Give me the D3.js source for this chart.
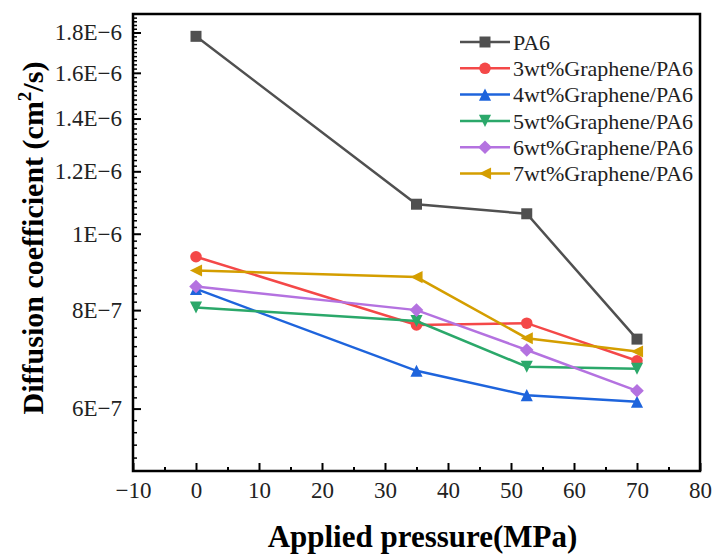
<!DOCTYPE html>
<html>
<head>
<meta charset="utf-8">
<script src="https://cdn.jsdelivr.net/npm/d3@7"></script>
<style>
	body { margin: 0; background: #fff; }
	svg, svg text { font-family: "Liberation Serif", "Times New Roman", serif; }
</style>
</head>
<body>
<div id="graph"></div>
<script>
var width = 713,
	height = 554,
	margin = {top: 14, right: 13, bottom: 83, left: 133},
	serif = '"Liberation Serif", "Times New Roman", serif';

// data
var pressure = [0, 35, 52.5, 70];
var seriesNames = ["PA6", "3wt%Graphene/PA6", "4wt%Graphene/PA6", "5wt%Graphene/PA6", "6wt%Graphene/PA6", "7wt%Graphene/PA6"];
var pa6 = [1.78e-6, 1.09e-6, 1.06e-6, 7.35e-7];
var gr3 = [9.35e-7, 7.66e-7, 7.70e-7, 6.90e-7];
var gr4 = [8.51e-7, 6.70e-7, 6.24e-7, 6.12e-7];
var gr5 = [8.06e-7, 7.75e-7, 6.78e-7, 6.74e-7];
var gr6 = [8.57e-7, 8.00e-7, 7.12e-7, 6.32e-7];
var gr7 = [8.98e-7, 8.81e-7, 7.37e-7, 7.09e-7];
var colors = ["#505050", "#f44848", "#1e64dc", "#2ba86a", "#b472e0", "#d49e00"];
var symbols = ["square", "circle", "up", "down", "diamond", "left"];

var xTicks = [-10, 0, 10, 20, 30, 40, 50, 60, 70, 80];
var yTicks = [6e-7, 8e-7, 1e-6, 1.2e-6, 1.4e-6, 1.6e-6, 1.8e-6];
var yTickLabels = ["6E\u22127", "8E\u22127", "1E\u22126", "1.2E\u22126", "1.4E\u22126", "1.6E\u22126", "1.8E\u22126"];

var allSeries = [pa6, gr3, gr4, gr5, gr6, gr7].map(function(vals, i){
	return {name: seriesNames[i], color: colors[i], symbol: symbols[i],
		points: vals.map(function(v, j){ return {x: pressure[j], y: v}; })};
});

var svg = d3.select('div#graph')
			.append('svg')
			.attr('width', width)
			.attr('height', height)
			.style('background', '#fff');

var x = d3.scaleLinear()
			.domain([-10, 80])
			.range([margin.left, width - margin.right]),
	y = d3.scaleLog()
			.domain([5e-7, 1.9e-6])
			.range([height - margin.bottom, margin.top]);

// minor ticks
var xMinor = d3.range(-5, 80, 10);
var yMinor = d3.range(5.2e-7, 1.9e-6, 2e-8).filter(function(v){
	return !yTicks.some(function(t){ return Math.abs(t - v) < 1e-9; });
});

svg.append("g")
	.attr("class", "x-minor")
	.attr("transform", "translate(0," + (height - margin.bottom) + ")")
	.call(d3.axisBottom(x).tickValues(xMinor).tickSize(-4).tickFormat(""))
	.call(function(g){ g.select(".domain").remove(); g.selectAll("line").attr("stroke-width", 2); });

svg.append("g")
	.attr("class", "y-minor")
	.attr("transform", "translate(" + margin.left + ",0)")
	.call(d3.axisLeft(y).tickValues(yMinor).tickSize(-4).tickFormat(""))
	.call(function(g){ g.select(".domain").remove(); g.selectAll("line").attr("stroke-width", 1.5); });

svg.append("g")
	.attr("class", "x-axis")
	.attr("transform", "translate(0," + (height - margin.bottom) + ")")
	.call(d3.axisBottom(x).tickValues(xTicks).tickSize(-8).tickPadding(11)
		.tickFormat(function(d){ return d < 0 ? "\u2212" + Math.abs(d) : d; }))
	.call(function(g){
		g.attr("font-family", null);
		g.select(".domain").remove();
		g.selectAll("line").attr("stroke-width", 2);
		g.selectAll("text").attr("font-size", 23).style("font-family", serif).attr("fill", "#222");
	});

svg.append("g")
	.attr("class", "y-axis")
	.attr("transform", "translate(" + margin.left + ",0)")
	.call(d3.axisLeft(y).tickValues(yTicks).tickSize(-8).tickPadding(11)
		.tickFormat(function(d, i){ return yTickLabels[i]; }))
	.call(function(g){
		g.attr("font-family", null);
		g.select(".domain").remove();
		g.selectAll("line").attr("stroke-width", 2);
		g.selectAll("text").attr("font-size", 23).style("font-family", serif).attr("fill", "#222");
	});

// frame
svg.append("rect")
	.attr("x", margin.left)
	.attr("y", margin.top)
	.attr("width", width - margin.left - margin.right)
	.attr("height", height - margin.top - margin.bottom)
	.attr("fill", "none")
	.attr("stroke", "#000")
	.attr("stroke-width", 2.5);

function symbolPath(type, size){
	var s = size;
	if (type == "square") return d3.symbol().type(d3.symbolSquare).size(s * s)();
	if (type == "circle") return d3.symbol().type(d3.symbolCircle).size(Math.PI * s * s / 4 * 1.1)();
	if (type == "diamond") return "M0," + (-s*0.62) + "L" + (s*0.62) + ",0L0," + (s*0.62) + "L" + (-s*0.62) + ",0Z";
	var h = s * 0.55;
	if (type == "up") return "M0," + (-h) + "L" + h + "," + h + "L" + (-h) + "," + h + "Z";
	if (type == "down") return "M0," + h + "L" + h + "," + (-h) + "L" + (-h) + "," + (-h) + "Z";
	if (type == "left") return "M" + (-h) + ",0L" + h + "," + (-h) + "L" + h + "," + h + "Z";
}

var line = d3.line()
	.x(function(d){ return x(d.x); })
	.y(function(d){ return y(d.y); });

var series = svg.append("g").attr("class", "series")
	.selectAll("g")
	.data(allSeries).enter()
	.append("g");

series.append("path")
	.attr("d", function(d){ return line(d.points); })
	.attr("fill", "none")
	.attr("stroke", function(d){ return d.color; })
	.attr("stroke-width", 2.5);

series.selectAll("path.marker")
	.data(function(d){ return d.points.map(function(p){ return {p: p, s: d}; }); })
	.enter()
	.append("path")
	.attr("class", "marker")
	.attr("transform", function(d){ return "translate(" + x(d.p.x) + "," + y(d.p.y) + ")"; })
	.attr("d", function(d){ return symbolPath(d.s.symbol, 11); })
	.attr("fill", function(d){ return d.s.color; });

// legend
var legend = svg.append("g").attr("class", "legend")
	.selectAll("g")
	.data(allSeries).enter()
	.append("g")
	.attr("transform", function(d, i){ return "translate(460," + (42 + i * 26.3) + ")"; });

legend.append("line")
	.attr("x1", 0).attr("x2", 50)
	.attr("stroke", function(d){ return d.color; })
	.attr("stroke-width", 2.5);

legend.append("path")
	.attr("transform", "translate(25,0)")
	.attr("d", function(d){ return symbolPath(d.symbol, 11); })
	.attr("fill", function(d){ return d.color; });

legend.append("text")
	.attr("x", 53)
	.attr("dy", "0.35em")
	.attr("font-size", 22)
	.attr("fill", "#222")
	.text(function(d){ return d.name; });

// axis titles
svg.append("text")
	.attr("x", (margin.left + width - margin.right) / 2 + 6)
	.attr("y", 547)
	.attr("text-anchor", "middle")
	.attr("font-size", 31)
	.attr("font-weight", "bold")
	.text("Applied pressure(MPa)");

var yTitle = svg.append("text")
	.attr("transform", "translate(43,238) rotate(-90)")
	.attr("text-anchor", "middle")
	.attr("font-size", 30)
	.attr("font-weight", "bold");
yTitle.append("tspan").text("Diffusion coefficient (cm");
yTitle.append("tspan").attr("font-size", 19).attr("dy", -12).text("2");
yTitle.append("tspan").attr("dy", 12).text("/s)");
</script>
</body>
</html>
